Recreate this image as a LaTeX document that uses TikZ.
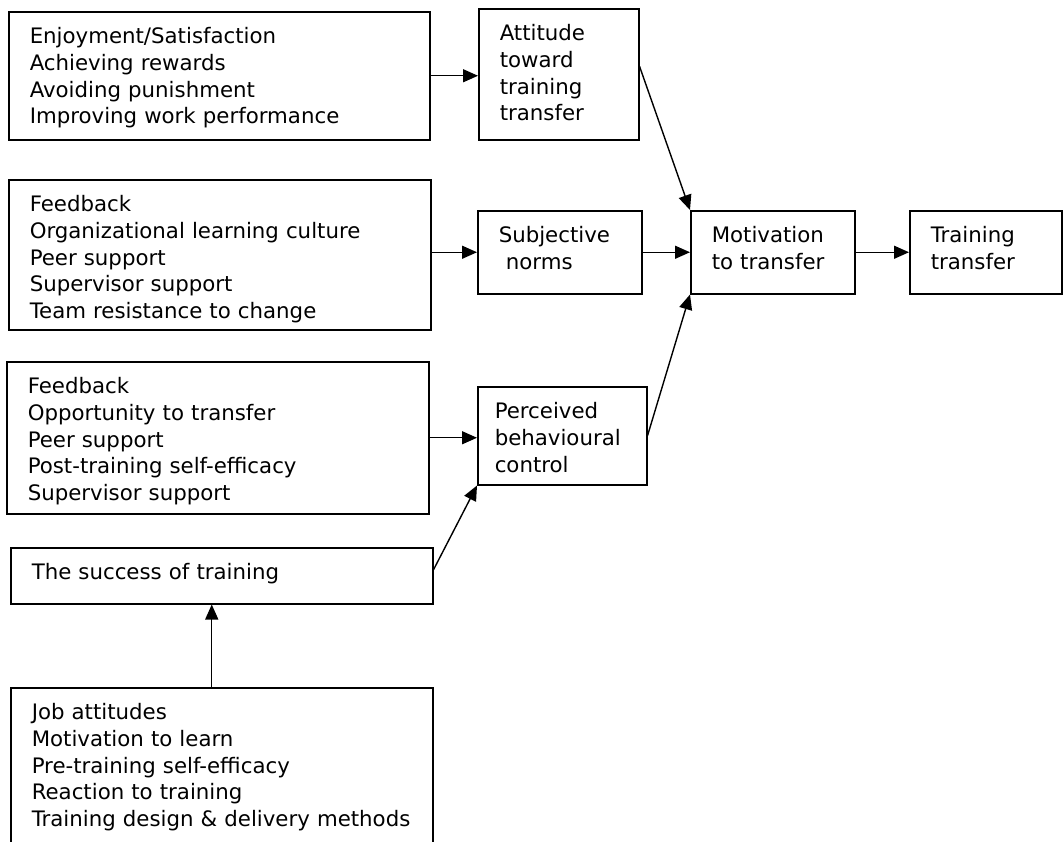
\documentclass[tikz,border=0pt]{standalone}
\usepackage{fontspec}
\setmainfont{DejaVu Sans}
\usetikzlibrary{arrows.meta}

\tikzset{
  factor/.style = {shape = rectangle, draw = black, line width = 1.5pt,
    anchor = north west, align = left, inner xsep = 0pt, inner ysep = 0pt,
    text height = 32pt, font = \fontsize{21.3pt}{26.7pt}\selectfont},
  link/.style = {line width = 1.4pt, -{Triangle[length = 15pt, width = 13pt]}},
}

\begin{document}
\begin{tikzpicture}[x = 1pt, y = -1pt]
        \useasboundingbox (0, 0) rectangle (1064, 841);
        \clip (0, 0) rectangle (1064, 841);

        % ------------------------------------------------------------------------
        % Left column
        \node[factor, minimum width = 421pt, text width = 379pt, text depth = 96pt] at (8, 11) (reasons)
          {Enjoyment/Satisfaction\\Achieving rewards\\Avoiding punishment\\Improving work performance};
        \node[factor, minimum width = 422pt, text width = 380pt, text depth = 118pt] at (8, 179) (climate)
          {Feedback\\Organizational learning culture\\Peer support\\Supervisor support\\Team resistance to change};
        \node[factor, minimum width = 422pt, text width = 380pt, text depth = 120pt] at (6, 361) (conditions)
          {Feedback\\Opportunity to transfer\\Peer support\\Post-training self-efficacy\\Supervisor support};
        \node[factor, minimum width = 422pt, text width = 380pt, text depth = 24pt] at (10, 547) (success)
          {The success of training};
        \node[factor, minimum width = 422pt, text width = 380pt, text depth = 200pt] at (10, 687) (antecedents)
          {Job attitudes\\Motivation to learn\\Pre-training self-efficacy\\Reaction to training\\Training design \& delivery methods};

        % ------------------------------------------------------------------------
        % Middle and right
        \node[factor, minimum width = 160pt, text width = 118pt, text depth = 99pt] at (478, 8) (attitude)
          {Attitude\\toward\\training\\transfer};
        \node[factor, minimum width = 164pt, text width = 122pt, text depth = 51pt] at (477, 210) (norms)
          {Subjective\\\ norms};
        \node[factor, minimum width = 169pt, text width = 135pt, text depth = 66pt] at (477, 386) (control)
          {Perceived\\behavioural\\control};
        \node[factor, minimum width = 164pt, text width = 122pt, text depth = 51pt] at (690, 210) (motivation)
          {Motivation\\to transfer};
        \node[factor, minimum width = 152pt, text width = 110pt, text depth = 51pt] at (909, 210) (transfer)
          {Training\\transfer};

        \path[link]
          (reasons.east) edge (reasons.east -| attitude.west)
          (norms.west -| climate.east) edge (norms.west)
          (conditions.east) edge (conditions.east -| control.west)
          ([yshift = 6pt]success.east) edge (control.south west)
          ([xshift = -10pt]antecedents.north) edge ([xshift = -10pt]success.south)
          ([yshift = 8pt]attitude.east) edge (motivation.north west)
          (norms) edge (motivation)
          (control.east) edge (motivation.south west)
          (motivation) edge (transfer)
        ;
      \end{tikzpicture}
\end{document}
